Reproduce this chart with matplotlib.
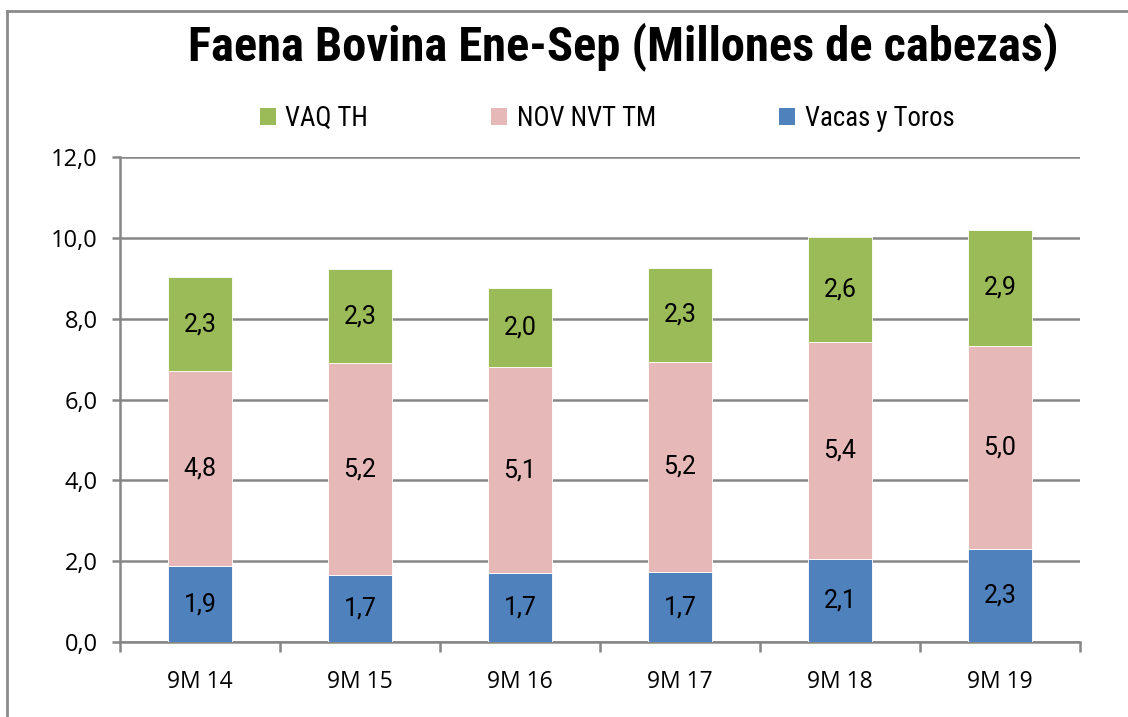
import matplotlib
matplotlib.use("Agg")
import matplotlib.pyplot as plt
from matplotlib import font_manager
from matplotlib.patches import Patch
import numpy as np

categories = ["9M 14", "9M 15", "9M 16", "9M 17", "9M 18", "9M 19"]
vacas_toros = [1.87, 1.66, 1.70, 1.72, 2.06, 2.29]
nov_nvt_tm = [4.84, 5.24, 5.10, 5.22, 5.37, 5.04]
vaq_th = [2.31, 2.33, 1.97, 2.31, 2.58, 2.86]
series_names = ["VAQ TH", "NOV NVT TM", "Vacas y Toros"]
title = "Faena Bovina Ene-Sep (Millones de cabezas)"
yticks = [0, 2, 4, 6, 8, 10, 12]

c_green = "#9BBB59"
c_pink = "#E6B9B8"
c_blue = "#4F81BD"
grid_c = "#868686"

available = {f.name for f in font_manager.fontManager.ttflist}
narrow = "Roboto"
for cand in ["Liberation Sans Narrow", "Roboto Condensed", "Open Sans Condensed", "DejaVu Sans Condensed"]:
    if cand in available:
        narrow = cand
        break

W, H = 1128, 717
fig = plt.figure(figsize=(W / 100, H / 100), dpi=100)
fig.patch.set_facecolor("white")

# outer border (left + top)
fig.add_artist(plt.Line2D([7 / W, 7 / W], [0, 1 - 11 / H], color="#8a8a8a", lw=2, transform=fig.transFigure))
fig.add_artist(plt.Line2D([7 / W, 1], [1 - 11 / H, 1 - 11 / H], color="#8a8a8a", lw=2, transform=fig.transFigure))

ax = fig.add_axes([120 / W, (H - 642) / H, 960 / W, (642 - 157) / H])
x = np.arange(len(categories))
bw = 0.4
b1 = ax.bar(x, vacas_toros, bw, color=c_blue, edgecolor="white", linewidth=0.6, zorder=3)
bot2 = np.array(vacas_toros)
b2 = ax.bar(x, nov_nvt_tm, bw, bottom=bot2, color=c_pink, edgecolor="white", linewidth=0.6, zorder=3)
bot3 = bot2 + np.array(nov_nvt_tm)
b3 = ax.bar(x, vaq_th, bw, bottom=bot3, color=c_green, edgecolor="white", linewidth=0.6, zorder=3)

fmt = lambda v: f"{v:.1f}".replace(".", ",")
for cont, vals in [(b1, vacas_toros), (b2, nov_nvt_tm), (b3, vaq_th)]:
    ax.bar_label(cont, labels=[fmt(v) for v in vals], label_type="center",
                 fontsize=18, family="Roboto", color="black", zorder=4)

ax.set_xlim(-0.5, len(categories) - 0.5)
ax.set_ylim(0, 12)
ax.set_yticks(yticks)
ax.set_yticklabels([fmt(v) for v in yticks], family="Open Sans", fontsize=17)
ax.yaxis.grid(True, color=grid_c, lw=1.8, zorder=0)
ax.set_axisbelow(True)
ax.set_xticks(x)
ax.set_xticklabels(categories, family="Open Sans", fontsize=16.5)
ax.set_xticks(np.arange(-0.5, len(categories)), minor=True)
ax.tick_params(axis="x", which="major", length=0, pad=20)
ax.tick_params(axis="x", which="minor", length=7, width=1.8, color=grid_c)
ax.tick_params(axis="y", length=6, width=1.8, color=grid_c, pad=10)
for s in ["top", "right"]:
    ax.spines[s].set_visible(False)
for s in ["left", "bottom"]:
    ax.spines[s].set_color(grid_c)
    ax.spines[s].set_linewidth(1.8)

# title sized to match width
t = fig.text(623.5 / W, 1 - 47 / H, title, ha="center", va="center",
             fontsize=28, fontweight="bold", family=narrow)
fig.canvas.draw()
r = fig.canvas.get_renderer()
tw = t.get_window_extent(r).width
t.set_fontsize(28 * 870 / tw)

# legend
handles = [Patch(facecolor=c_green), Patch(facecolor=c_pink), Patch(facecolor=c_blue)]
probe = fig.text(0, 0, "VAQ TH", fontsize=18, family=narrow)
fig.canvas.draw()
pw = probe.get_window_extent(fig.canvas.get_renderer()).width
probe.remove()
lfs = min(20, 18 * 83 / pw)
leg = fig.legend(handles, series_names, loc="center", ncol=3,
                 bbox_to_anchor=(607 / W, 1 - 118 / H), frameon=False,
                 prop={"family": narrow, "size": lfs},
                 handlelength=0.6, handleheight=0.6, handletextpad=0.35,
                 columnspacing=4.6)

fig.savefig("out.png", dpi=100, facecolor="white")
